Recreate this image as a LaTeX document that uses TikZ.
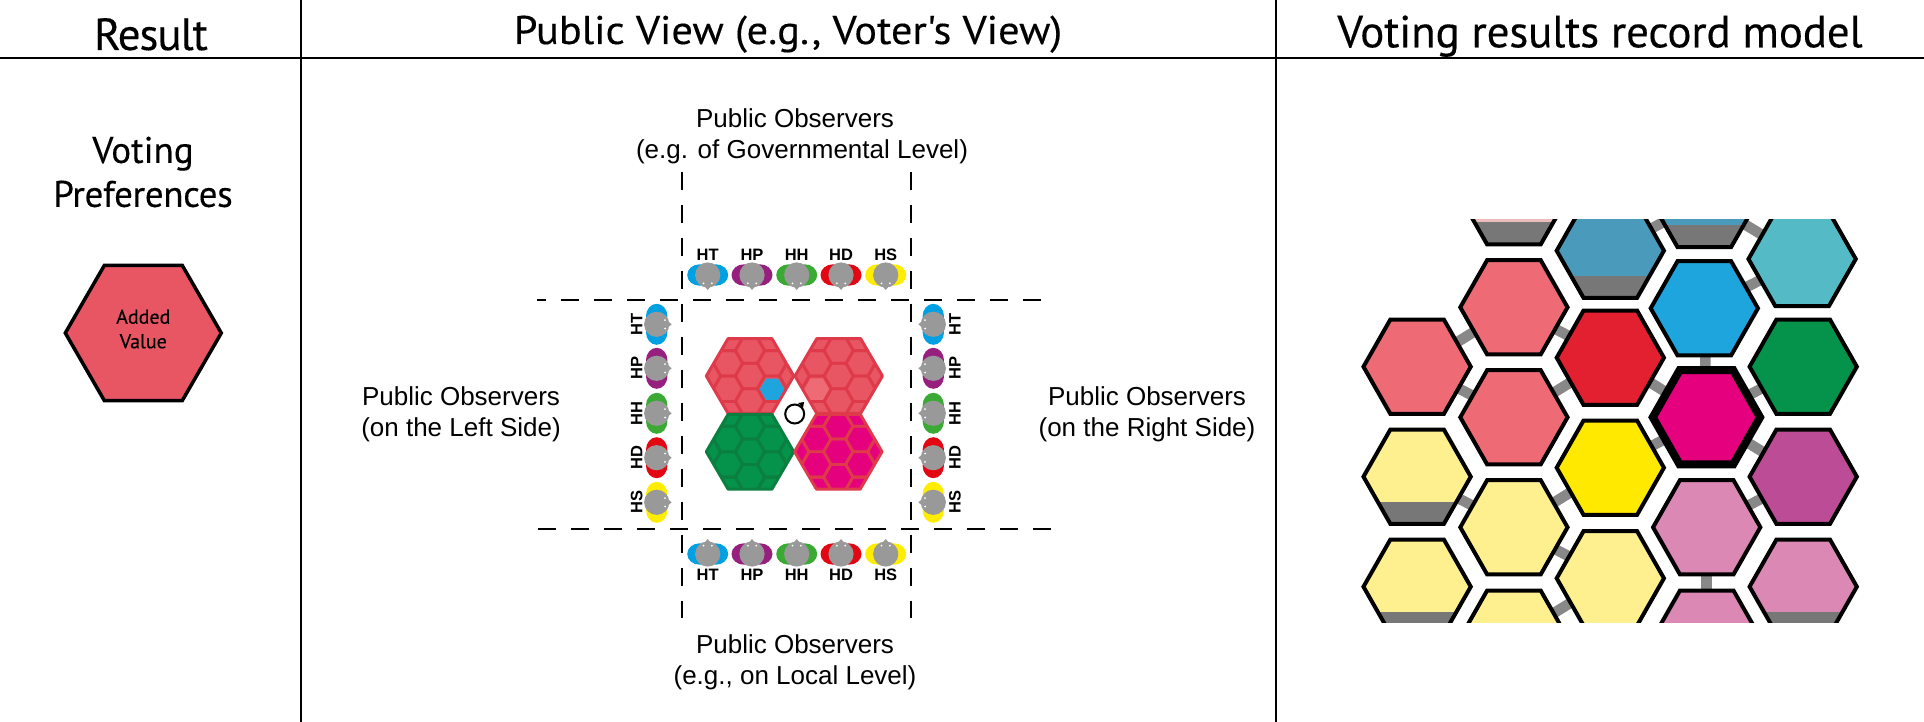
\documentclass[tikz,border=0pt]{standalone}
\usepackage{fontspec}
\newfontfamily\headfont[FakeBold=0.25]{PT Sans}
\newfontfamily\labelfont{Liberation Sans}
\usetikzlibrary{shapes.geometric,backgrounds}

\definecolor{addedred}{HTML}{E85663}
\definecolor{combline}{HTML}{DF3A4A}
\definecolor{greenline}{HTML}{0B7F40}
\definecolor{softred}{HTML}{EE6B76}
\definecolor{palepink}{HTML}{EBBDBD}
\definecolor{strongred}{HTML}{E32030}
\definecolor{paleyellow}{HTML}{FFF08F}
\definecolor{strongyellow}{HTML}{FFE900}
\definecolor{duskblue}{HTML}{4A9ABB}
\definecolor{strongblue}{HTML}{1FA5DE}
\definecolor{softteal}{HTML}{54BBC6}
\definecolor{stronggreen}{HTML}{05924B}
\definecolor{strongmagenta}{HTML}{E5007E}
\definecolor{softpurple}{HTML}{BC4C95}
\definecolor{softpink}{HTML}{DC88B5}
\definecolor{bandgrey}{HTML}{777777}
\definecolor{linkgrey}{HTML}{888888}
\definecolor{seatgrey}{HTML}{999999}
\definecolor{seatblue}{HTML}{00A0E3}
\definecolor{seatpurple}{HTML}{97207F}
\definecolor{seatgreen}{HTML}{3AAA35}
\definecolor{seatred}{HTML}{E30613}
\definecolor{seatyellow}{HTML}{FFED00}

\tikzset{
  rule/.style={line width=2},
  dashline/.style={line width=2,dash pattern=on 18pt off 15pt},
  headtext/.style={font=\headfont\fontsize{45}{50}\selectfont,inner sep=0,anchor=base},
  sidetext/.style={font=\headfont\fontsize{37}{44}\selectfont,align=center,inner sep=0},
  valuetext/.style={font=\headfont\fontsize{20}{24.5}\selectfont,align=center,inner sep=0},
  viewtext/.style={font=\labelfont\fontsize{26}{30.5}\selectfont,align=center,inner sep=0},
  seatlabel/.style={font=\labelfont\bfseries\fontsize{16.5}{16.5}\selectfont,inner sep=0},
  hexcell/.style={regular polygon,regular polygon sides=6,draw=black,line width=4,
    minimum size=108.7pt,inner sep=0,outer sep=0,xscale=.987,transform shape},
  greybase/.style={path picture={\fill[bandgrey]
    ([yshift=22pt]path picture bounding box.south west) rectangle
    (path picture bounding box.south east);}},
  linkbar/.style={draw=linkgrey,line width=10.5},
  pics/observer/.style={code={
    \fill[#1] (-8,0) ellipse (12.5 and 10.7);
    \fill[#1] (8,0) ellipse (12.5 and 10.7);
    \fill[seatgrey] (-2.5,12) -- (0,15) -- (2.5,12) -- cycle;
    \fill[seatgrey] (0,0) circle (12.6);
    \fill[white] (-4.2,8.3) circle (1);
    \fill[white] (4.2,8.3) circle (1);
  }},
  pics/comb/.style 2 args={code={
    \begin{scope}
    \clip (43.7,0) -- (21.9,37.4) -- (-21.9,37.4) -- (-43.7,0) -- (-21.9,-37.4) -- (21.9,-37.4) -- cycle;
    \fill[#1] (-46,-40) rectangle (46,40);
    \foreach \cx/\cy in {0/-25.4,0/0,0/25.4,-22/-12.7,-22/12.7,22/-12.7,22/12.7,
      -44/0,44/0,-22/-38.1,22/-38.1,-22/38.1,22/38.1,-44/-25.4,44/-25.4,-44/25.4,44/25.4}
      \draw[#2,line width=2.8] (\cx,\cy) ++(14.67,0) -- ++(-7.33,12.7) -- ++(-14.67,0)
        -- ++(-7.33,-12.7) -- ++(7.33,-12.7) -- ++(14.67,0) -- cycle;
    \end{scope}
    \draw[#2,line width=3,line join=round] (43.7,0) -- (21.9,37.4) -- (-21.9,37.4) -- (-43.7,0)
      -- (-21.9,-37.4) -- (21.9,-37.4) -- cycle;
  }},
}

\newcommand{\cellfill}[3]{\fill[#3] (#1,#2) ++(12.2,0) -- ++(-6.1,10.6) -- ++(-12.2,0)
  -- ++(-6.1,-10.6) -- ++(6.1,-10.6) -- ++(12.2,0) -- cycle;}

\begin{document}
\begin{tikzpicture}[x=1pt,y=-1pt]
\useasboundingbox (0,0) rectangle (1924,722);

% table rules
\draw[rule] (0,58.5) -- (1924,58.5);
\draw[rule] (300.5,0) -- (300.5,722);
\draw[rule] (1276,0) -- (1276,722);

\node[headtext] (headresult) at (151,50) {\addfontfeature{LetterSpace=-2.4}Result};
\node[headtext,font=\headfont\fontsize{40}{44}\selectfont,xscale=1.06,transform shape]
  (headview) at (788,44) {Public View (e.g., Voter's View)};
\node[headtext] (headmodel) at (1600,47.3) {\addfontfeature{LetterSpace=-0.4}Voting results record model};

% left column
\node[sidetext] (prefs) at (143,172) {Voting\\\addfontfeature{LetterSpace=-0.9}Preferences};
\node[regular polygon,regular polygon sides=6,draw=black,line width=3.5,fill=addedred,
  minimum size=156pt,inner sep=0,outer sep=0] (added) at (143.3,333) {};
\node[valuetext] (addedtext) at (143.3,329) {Added\\Value};

% middle column
\draw[dashline,dash phase=9.6] (537.3,300) -- (1043,300);
\draw[dashline] (538.3,529) -- (1053.3,529);
\draw[dashline] (682,171.7) -- (682,618.3);
\draw[dashline] (911,171.7) -- (911,618.3);

\node[viewtext] (obstop) at (802,136.5) {\hspace*{-14pt}Public Observers\\(e.g. of Governmental Level)};
\node[viewtext] (obsleft) at (461,414.5) {Public Observers\\(on the Left Side)};
\node[viewtext] (obsright) at (1147,414.5) {Public Observers\\(on the Right Side)};
\node[viewtext] (obsbottom) at (795,662.5) {Public Observers\\(e.g., on Local Level)};

\foreach \pname/\pcol/\px in {HT/seatblue/707.7,HP/seatpurple/752,HH/seatgreen/796.7,
  HD/seatred/841,HS/seatyellow/885.7}{
  \pic (top\pname) at (\px,275) {observer=\pcol};
  \node[seatlabel] (toplabel\pname) at (\px,255) {\pname};
  \pic[rotate=180] (low\pname) at (\px,554) {observer=\pcol};
  \node[seatlabel] (lowlabel\pname) at (\px,575) {\pname};
}
\foreach \pname/\pcol/\py in {HT/seatblue/324.3,HP/seatpurple/368.3,HH/seatgreen/413.3,
  HD/seatred/457.7,HS/seatyellow/502.3}{
  \pic[rotate=90] (left\pname) at (656.7,\py) {observer=\pcol};
  \node[seatlabel,rotate=90] (leftlabel\pname) at (636.7,\py) {\pname};
  \pic[rotate=-90] (right\pname) at (933.3,\py) {observer=\pcol};
  \node[seatlabel,rotate=90] (rightlabel\pname) at (955,\py) {\pname};
}

\pic at (750,376) {comb={addedred}{combline}};
\pic at (838.7,376) {comb={addedred}{combline}};
\pic at (750,451.7) {comb={stronggreen}{greenline}};
\pic at (838.3,451.7) {comb={strongmagenta}{combline}};
\cellfill{772}{389.3}{strongblue}
\cellfill{816.7}{389.3}{softred}

\node[circle,draw=black,line width=2,minimum size=19pt,inner sep=0] (turn) at (794.7,414) {};
\fill[black] (798,403) -- (804,402) -- (803,408) -- cycle;

% right column
\begin{scope}
\clip (1300,219.5) rectangle (1924,622);
\foreach \hname/\hx/\hy/\hcol in {a1/1417.1/366.7/softred,b1/1513.9/307.3/softred,
  b2/1513.9/417.3/softred,b3/1513.9/527.3/paleyellow,b4/1513.9/637.7/paleyellow,
  d1/1610.3/357.7/strongred,d2/1610.3/467.7/strongyellow,d3/1610.3/578.3/paleyellow,
  e1/1704.3/308.3/strongblue,e3/1706.7/527.3/softpink,e4/1706.7/637.7/softpink,
  f0/1802.1/259/softteal,f1/1803.2/366.7/stronggreen,f2/1803.2/476.7/softpurple}
  \node[hexcell,fill=\hcol] (\hname) at (\hx,\hy) {};
\foreach \hname/\hx/\hy/\hcol in {a2/1417.1/476.7/paleyellow,a3/1417.1/586.7/paleyellow,
  b0/1513.9/197.3/palepink,d0/1610.3/250.7/duskblue,e0/1704.3/200/duskblue,
  f3/1803.2/586.7/softpink}
  \node[hexcell,greybase,fill=\hcol] (\hname) at (\hx,\hy) {};
\node[hexcell,fill=strongmagenta,line width=8] (e2) at (1706.4,417.3) {};
\end{scope}

\begin{scope}[on background layer]
\clip (1300,219.5) rectangle (1924,622);
\foreach \a/\b in {a1/b1,a1/b2,b1/d1,b2/d1,d1/e2,e1/e2,e1/f0,e2/f1,e2/f2,d2/e2,b3/d2,
  a2/b3,b3/d3,b4/d3,e3/f2,e3/e4,d0/e0,e0/f0}
  \draw[linkbar] (\a) -- (\b);
\end{scope}

\end{tikzpicture}
\end{document}
